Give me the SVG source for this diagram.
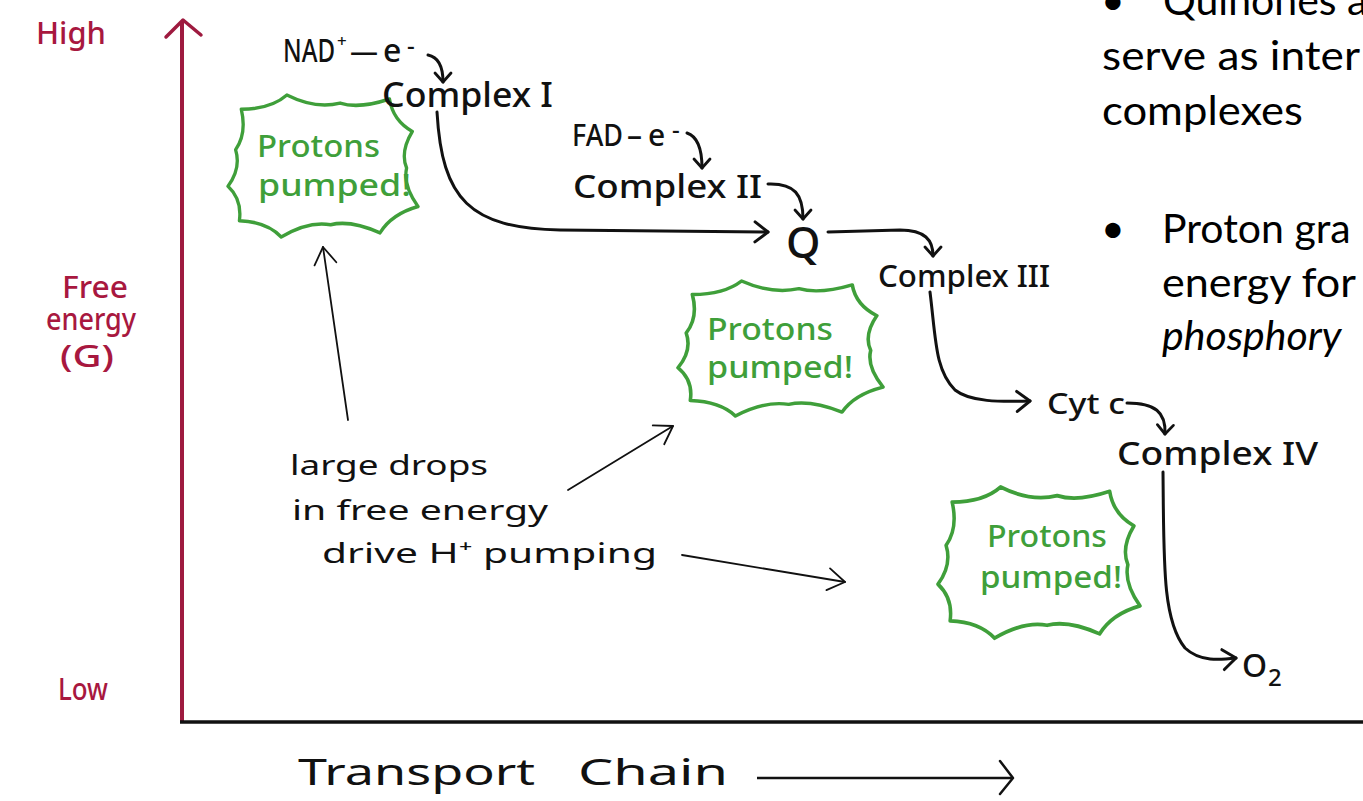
<svg xmlns="http://www.w3.org/2000/svg" width="1363" height="801" viewBox="0 0 1363 801">
<style>
.red{fill:#a8183f;font-family:"Noto Sans","DejaVu Sans",sans-serif;font-size:30px;font-weight:500}
.lbl{fill:#111;font-family:"Noto Sans","DejaVu Sans",sans-serif;font-weight:500}
.ann{fill:#111;font-family:"Noto Sans","DejaVu Sans",sans-serif;font-size:28px;font-weight:400}
.grn{fill:#3f9f3a;font-family:"Noto Sans","DejaVu Sans",sans-serif;font-size:30px;font-weight:500}
.body{fill:#000;font-family:Lato,"Open Sans",sans-serif;font-size:41px}
.burst{fill:#fff;stroke:#3f9f3a;stroke-width:3.5;stroke-linejoin:round;vector-effect:non-scaling-stroke}
.chain{fill:none;stroke:#111;stroke-width:3;stroke-linecap:round}
.thin{fill:none;stroke:#111;stroke-width:1.8;stroke-linecap:round}
</style>
<defs>
<marker id="ah" viewBox="0 0 22 24" refX="19" refY="12" markerWidth="22" markerHeight="24" markerUnits="userSpaceOnUse" orient="auto">
<path d="M6,2 L19,12 L6,22" fill="none" stroke="#111" stroke-width="3" stroke-linecap="round" stroke-linejoin="round"/>
</marker>
<marker id="ahs" viewBox="0 0 16 20" refX="13" refY="10" markerWidth="16" markerHeight="20" markerUnits="userSpaceOnUse" orient="auto">
<path d="M4,2 L13,10 L4,18" fill="none" stroke="#111" stroke-width="2.8" stroke-linecap="round" stroke-linejoin="round"/>
</marker>
<marker id="aht" viewBox="0 0 22 26" refX="20" refY="13" markerWidth="22" markerHeight="26" markerUnits="userSpaceOnUse" orient="auto">
<path d="M3,2 L20,13 L3,24" fill="none" stroke="#111" stroke-width="1.8" stroke-linecap="round" stroke-linejoin="round"/>
</marker>
<path id="burst" d="M14,14 Q45,14 62,0 Q91.5,14 118,8 Q138,14 170,4 Q173.5,25 194,36 Q181,56 188,72 Q184,89 200,110 Q172,117.5 160,136 Q129,123 108,128 Q85,124 56,140 Q41,125 12,124 Q15,103 0,90 Q14,72 8,54 Q20,38 14,14 Z"/>
</defs>
<rect width="1363" height="801" fill="#fff"/>

<g id="burst-1">
<use href="#burst" class="burst" transform="translate(228,95) scale(0.95,1.014)"/>
<text class="grn" x="257" y="157" textLength="123" lengthAdjust="spacingAndGlyphs">Protons</text>
<text class="grn" x="258" y="196" textLength="153" lengthAdjust="spacingAndGlyphs">pumped!</text>
</g>
<g id="burst-2">
<use href="#burst" class="burst" transform="translate(678,281) scale(1.025,0.964)"/>
<text class="grn" x="707" y="340" textLength="126" lengthAdjust="spacingAndGlyphs">Protons</text>
<text class="grn" x="707" y="378" textLength="146" lengthAdjust="spacingAndGlyphs">pumped!</text>
</g>
<g id="burst-3">
<use href="#burst" class="burst" transform="translate(938,487) scale(1.01,1.08)"/>
<text class="grn" x="987" y="547" textLength="120" lengthAdjust="spacingAndGlyphs">Protons</text>
<text class="grn" x="980" y="588" textLength="142" lengthAdjust="spacingAndGlyphs">pumped!</text>
</g>

<g id="axis-y">
<line x1="182" y1="22" x2="182" y2="722" stroke="#9e1a3f" stroke-width="4"/>
<polyline points="166,37 183,20 201,35" fill="none" stroke="#9e1a3f" stroke-width="3.5" stroke-linecap="round" stroke-linejoin="round"/>
<text class="red" x="36" y="44" textLength="70" lengthAdjust="spacingAndGlyphs">High</text>
<text class="red" x="62" y="298" textLength="66" lengthAdjust="spacingAndGlyphs">Free</text>
<text class="red" x="46" y="330" textLength="90" lengthAdjust="spacingAndGlyphs">energy</text>
<text class="red" x="60" y="367" textLength="54" lengthAdjust="spacingAndGlyphs">(G)</text>
<text class="red" x="58" y="700" textLength="50" lengthAdjust="spacingAndGlyphs">Low</text>
</g>

<g id="axis-x">
<line x1="180" y1="722" x2="1363" y2="722" stroke="#111" stroke-width="3.5"/>
<text class="ann" x="298" y="785" style="font-size:36px" textLength="237" lengthAdjust="spacingAndGlyphs">Transport</text>
<text class="ann" x="578" y="785" style="font-size:36px" textLength="150" lengthAdjust="spacingAndGlyphs">Chain</text>
<line x1="757" y1="778" x2="1013" y2="778" stroke="#111" stroke-width="2.5"/>
<polyline points="1000,761 1013,778 1000,794" fill="none" stroke="#111" stroke-width="2.5" stroke-linecap="round" stroke-linejoin="round"/>
</g>

<g id="nad">
<text class="lbl" style="font-size:32px"><tspan x="283" y="62" textLength="52" lengthAdjust="spacingAndGlyphs">NAD</tspan><tspan x="337" y="47" style="font-size:17px">+</tspan><tspan x="350" y="62" style="font-size:28px">—</tspan><tspan x="383" y="62">e</tspan><tspan x="407" y="54" style="font-size:24px">-</tspan></text>
</g>
<g id="complex-1"><text class="lbl" x="382" y="107" style="font-size:34px" textLength="171" lengthAdjust="spacingAndGlyphs">Complex I</text></g>
<g id="fad">
<text class="lbl" style="font-size:30px"><tspan x="572" y="146" textLength="51" lengthAdjust="spacingAndGlyphs">FAD</tspan><tspan x="627" y="146">–</tspan><tspan x="648" y="146">e</tspan><tspan x="672" y="138" style="font-size:24px">-</tspan></text>
</g>
<g id="complex-2"><text class="lbl" x="573" y="198" style="font-size:32px" textLength="189" lengthAdjust="spacingAndGlyphs">Complex II</text></g>
<g id="q"><text class="lbl" x="786" y="258" style="font-size:44px">Q</text></g>
<g id="complex-3"><text class="lbl" x="878" y="287" style="font-size:30px" textLength="172" lengthAdjust="spacingAndGlyphs">Complex III</text></g>
<g id="cytc"><text class="lbl" x="1047" y="414" style="font-size:28px" textLength="78" lengthAdjust="spacingAndGlyphs">Cyt c</text></g>
<g id="complex-4"><text class="lbl" x="1117" y="465" style="font-size:32px" textLength="201" lengthAdjust="spacingAndGlyphs">Complex IV</text></g>
<g id="o2"><text class="lbl" style="font-size:32px"><tspan x="1242" y="677">O</tspan><tspan x="1268" y="686" style="font-size:24px">2</tspan></text></g>

<g id="annotation">
<text class="ann" x="290" y="475" textLength="198" lengthAdjust="spacingAndGlyphs">large drops</text>
<text class="ann" x="292" y="520" textLength="256" lengthAdjust="spacingAndGlyphs">in free energy</text>
<text class="ann" x="322" y="563" textLength="335" lengthAdjust="spacingAndGlyphs">drive H⁺ pumping</text>
</g>

<g id="notes">
<text class="body" x="1101" y="15">•</text>
<text class="body" x="1163" y="15">Quinones a</text>
<text class="body" x="1102" y="70" textLength="258" lengthAdjust="spacingAndGlyphs">serve as inter</text>
<text class="body" x="1102" y="125" textLength="201" lengthAdjust="spacingAndGlyphs">complexes</text>
<text class="body" x="1101" y="243">•</text>
<text class="body" x="1162" y="243">Proton gra</text>
<text class="body" x="1162" y="297" textLength="194" lengthAdjust="spacingAndGlyphs">energy for</text>
<text class="body" x="1162" y="350" style="font-style:italic">phosphory</text>
</g>

<g id="connectors">
<path class="chain" d="M428,55 Q443,58 443,82" marker-end="url(#ahs)"/>
<path class="chain" d="M437,112 C442,200 470,228 560,230 L768,232" marker-end="url(#ah)"/>
<path class="chain" d="M687,133 Q702,138 702,168" marker-end="url(#ahs)"/>
<path class="chain" d="M768,184 C795,183 803,195 803,219" marker-end="url(#ahs)"/>
<path class="chain" d="M828,232 L900,230 C925,230 933,240 933,256" marker-end="url(#ahs)"/>
<path class="chain" d="M930,292 C936,340 935,370 955,390 C970,402 1000,402 1030,401" marker-end="url(#ah)"/>
<path class="chain" d="M1127,403 C1155,403 1166,412 1165,434" marker-end="url(#ahs)"/>
<path class="chain" d="M1163,472 C1164,560 1162,620 1185,648 C1200,662 1220,660 1236,658" marker-end="url(#ah)"/>
<path class="thin" d="M348,420 L323,247" marker-end="url(#aht)"/>
<path class="thin" d="M568,490 L673,426" marker-end="url(#aht)"/>
<path class="thin" d="M682,555 L845,582" marker-end="url(#aht)"/>
</g>
</svg>
